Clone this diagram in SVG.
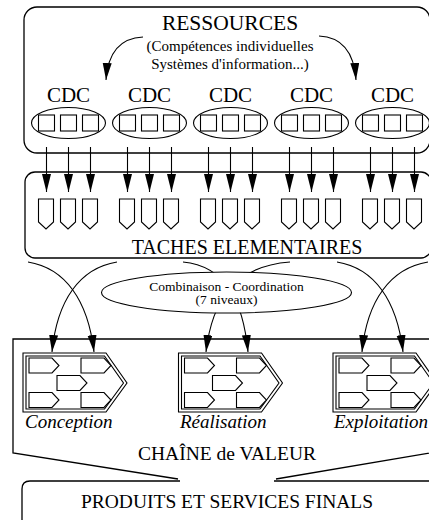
<svg xmlns="http://www.w3.org/2000/svg" width="429" height="520" viewBox="0 0 429 520">
<style>
text{font-family:"Liberation Serif","Times New Roman",Times,"DejaVu Serif",serif;fill:#000}
.c{text-anchor:middle}
.i{font-style:italic}
.box{fill:none;stroke:#000;stroke-width:1.3}
.ln{fill:none;stroke:#000;stroke-width:1.1}
.sh{fill:#fff;stroke:#000;stroke-width:1.1}
</style>
<defs>
<marker id="ah" markerUnits="userSpaceOnUse" markerWidth="20" markerHeight="10" refX="18" refY="4.5" orient="auto"><path d="M0,0 L18,4.5 L0,9 z" fill="#000"/></marker>
<marker id="ah2" markerUnits="userSpaceOnUse" markerWidth="20" markerHeight="10" refX="17" refY="4.5" orient="auto"><path d="M0,0 L17,4.5 L0,9 z" fill="#000"/></marker>
<g id="sq"><rect x="-8" y="-8" width="16" height="16" class="sh"/></g>
<path id="task" d="M-7.5,0 H7.5 V23 L0,30 L-7.5,23 Z" class="sh"/>
<path id="mini" d="M0,0 H23 L30,7.5 L23,15 H0 Z" class="sh"/>
<g id="chev">
<path d="M0,0 H83 L104,30 L83,59 H0 Z" fill="#fff" stroke="#000" stroke-width="1.1"/>
<path d="M3,3 H81.5 L100.5,30 L81.5,56 H3 Z" fill="none" stroke="#000" stroke-width="1.1"/>
<use href="#mini" x="6" y="5"/>
<use href="#mini" x="58" y="5"/>
<use href="#mini" x="34" y="22.5"/>
<use href="#mini" x="6" y="39.5"/>
<use href="#mini" x="58" y="39.5"/>
</g>
</defs>

<g id="connectors">
<path class="ln" d="M143,37 C120,38 108,52 106,80" marker-end="url(#ah2)"/>
<path class="ln" d="M319,36 C342,37 354,52 356,80" marker-end="url(#ah2)"/>
<g marker-end="url(#ah)">
<path class="ln" d="M46.5,147 V192"/><path class="ln" d="M68.5,147 V192"/><path class="ln" d="M90.5,147 V192"/>
<path class="ln" d="M127.5,147 V192"/><path class="ln" d="M149.5,147 V192"/><path class="ln" d="M171.5,147 V192"/>
<path class="ln" d="M208.5,147 V192"/><path class="ln" d="M230.5,147 V192"/><path class="ln" d="M252.5,147 V192"/>
<path class="ln" d="M289.5,147 V192"/><path class="ln" d="M311.5,147 V192"/><path class="ln" d="M333.5,147 V192"/>
<path class="ln" d="M370.5,147 V192"/><path class="ln" d="M392.5,147 V192"/><path class="ln" d="M414.5,147 V192"/>
</g>
<g marker-end="url(#ah2)">
<path class="ln" d="M28,262 C65,268 88,300 94,352"/>
<path class="ln" d="M117,262 C80,268 57,300 52,352"/>
<path class="ln" d="M183,262 C225,266 243,300 248,352"/>
<path class="ln" d="M290,262 C235,266 212,300 206,352"/>
<path class="ln" d="M337,262 C374,268 397,300 403,352"/>
<path class="ln" d="M428,262 C391,268 367,300 362,352"/>
</g>
</g>

<g id="ressources">
<rect class="box" x="24" y="7" width="406" height="146" rx="13"/>
<text class="c" x="230" y="30" font-size="21.5">RESSOURCES</text>
<text class="c" x="230" y="51" font-size="15">(Compétences individuelles</text>
<text class="c" x="230" y="69" font-size="15">Systèmes d'information...)</text>
</g>

<g id="cdc1"><text class="c" x="68.5" y="102" font-size="21">CDC</text><ellipse class="ln" cx="68.5" cy="123" rx="37" ry="15.5"/><use href="#sq" x="46.5" y="123"/><use href="#sq" x="68.5" y="123"/><use href="#sq" x="90.5" y="123"/></g>
<g id="cdc2"><text class="c" x="149.5" y="102" font-size="21">CDC</text><ellipse class="ln" cx="149.5" cy="123" rx="37" ry="15.5"/><use href="#sq" x="127.5" y="123"/><use href="#sq" x="149.5" y="123"/><use href="#sq" x="171.5" y="123"/></g>
<g id="cdc3"><text class="c" x="230.5" y="102" font-size="21">CDC</text><ellipse class="ln" cx="230.5" cy="123" rx="37" ry="15.5"/><use href="#sq" x="208.5" y="123"/><use href="#sq" x="230.5" y="123"/><use href="#sq" x="252.5" y="123"/></g>
<g id="cdc4"><text class="c" x="311.5" y="102" font-size="21">CDC</text><ellipse class="ln" cx="311.5" cy="123" rx="37" ry="15.5"/><use href="#sq" x="289.5" y="123"/><use href="#sq" x="311.5" y="123"/><use href="#sq" x="333.5" y="123"/></g>
<g id="cdc5"><text class="c" x="392.5" y="102" font-size="21">CDC</text><ellipse class="ln" cx="392.5" cy="123" rx="37" ry="15.5"/><use href="#sq" x="370.5" y="123"/><use href="#sq" x="392.5" y="123"/><use href="#sq" x="414.5" y="123"/></g>

<g id="taches">
<rect class="box" x="25" y="172" width="406" height="86" rx="10"/>
<use href="#task" x="46" y="199"/><use href="#task" x="68" y="199"/><use href="#task" x="90" y="199"/>
<use href="#task" x="127" y="199"/><use href="#task" x="149" y="199"/><use href="#task" x="171" y="199"/>
<use href="#task" x="208" y="199"/><use href="#task" x="230" y="199"/><use href="#task" x="252" y="199"/>
<use href="#task" x="289" y="199"/><use href="#task" x="311" y="199"/><use href="#task" x="333" y="199"/>
<use href="#task" x="370" y="199"/><use href="#task" x="392" y="199"/><use href="#task" x="414" y="199"/>
<text class="c" x="247" y="254" font-size="20">TACHES ELEMENTAIRES</text>
</g>

<g id="combinaison">
<ellipse cx="226.5" cy="292.5" rx="125" ry="20.5" fill="#fff" stroke="#000" stroke-width="1.1"/>
<text class="c" x="226.5" y="290.5" font-size="13.5">Combinaison - Coordination</text>
<text class="c" x="226.5" y="304" font-size="13.5">(7 niveaux)</text>
</g>

<g id="chaine">
<path class="box" d="M442,339 H13 V453 L178,479 M276,479 L442,451"/>
<text class="c" x="227" y="460" font-size="19.5">CHAÎNE de VALEUR</text>
</g>

<g id="conception"><use href="#chev" x="23" y="353"/><text class="i" x="25" y="428" font-size="19">Conception</text></g>
<g id="realisation"><use href="#chev" x="178.5" y="353"/><text class="i" x="180" y="428" font-size="19">Réalisation</text></g>
<g id="exploitation"><use href="#chev" x="333" y="353"/><text class="i" x="334" y="428" font-size="19">Exploitation</text></g>

<g id="produits">
<path class="box" d="M22,522 V489 Q22,481 30,481 H180 M274,481 H442"/>
<text class="c" x="227" y="508" font-size="19.5">PRODUITS ET SERVICES FINALS</text>
</g>
</svg>
